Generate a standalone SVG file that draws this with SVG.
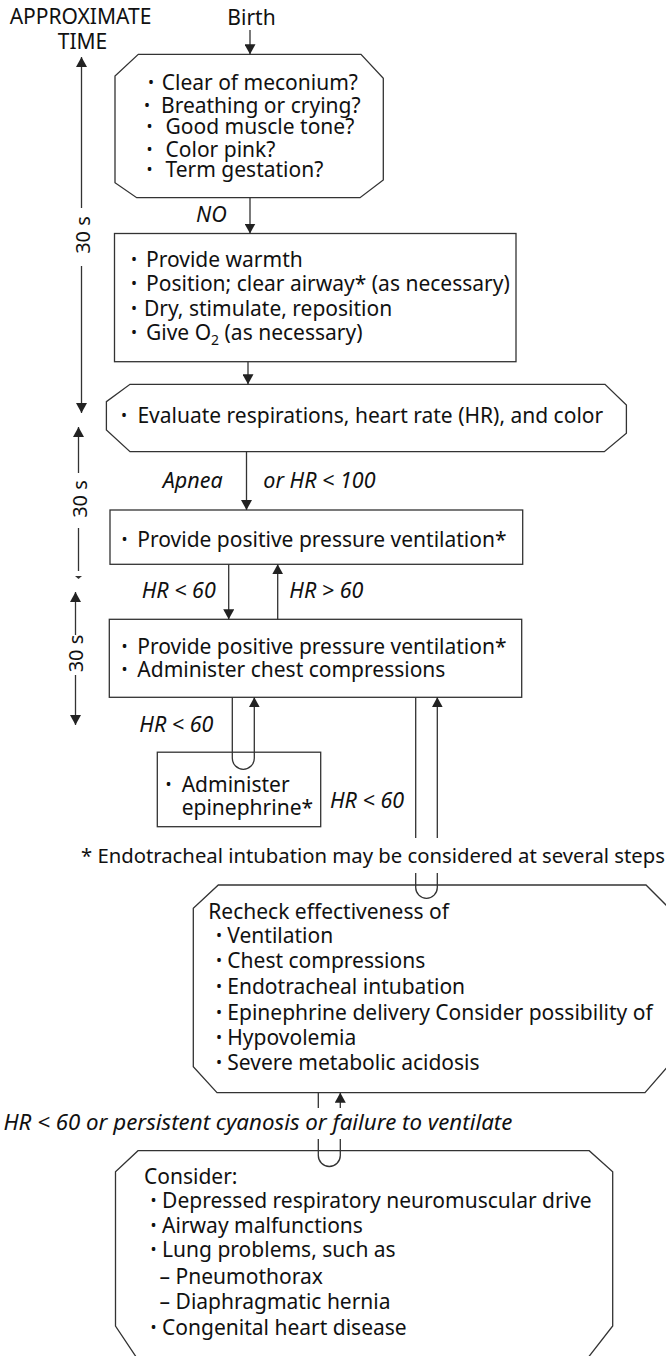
<svg xmlns="http://www.w3.org/2000/svg" width="666" height="1356" viewBox="0 0 666 1356">
<style>
  text { font-family: "Noto Sans", "DejaVu Sans", sans-serif; font-size: 21px; fill: #111; }
  .it { font-style: italic; font-size: 21.5px; }
  .mid { text-anchor: middle; }
  .end { text-anchor: end; }
  .note { font-size: 20.3px; }
  .tl { font-size: 20px; text-anchor: middle; }
  .b { font-size: 16px; }
  .sub { font-size: 14px; }
  .shape { fill: #fff; stroke: #333; stroke-width: 1.3; }
  .ln { fill: none; stroke: #333; stroke-width: 1.3; }
</style>
<defs>
  <marker id="ah" viewBox="0 0 10 11" refX="10" refY="5.5" markerWidth="10" markerHeight="11" markerUnits="userSpaceOnUse" orient="auto">
    <path d="M0,0 L10,5.5 L0,11 Z" fill="#222"/>
  </marker>
</defs>
<rect width="666" height="1356" fill="#fff"/>

<!-- time scale on the left -->
<g id="time-axis">
  <text class="mid" x="80.5" y="24">APPROXIMATE</text>
  <text class="mid" x="82.5" y="49">TIME</text>
  <line class="ln" x1="81.5" y1="208" x2="81.5" y2="57" marker-end="url(#ah)"/>
  <text class="tl" transform="translate(90,235) rotate(-90)">30 s</text>
  <line class="ln" x1="81.5" y1="266" x2="81.5" y2="413" marker-end="url(#ah)"/>
  <line class="ln" x1="78.5" y1="473" x2="78.5" y2="427" marker-end="url(#ah)"/>
  <text class="tl" transform="translate(86.5,499) rotate(-90)">30 s</text>
  <line class="ln" x1="78.5" y1="528" x2="78.5" y2="571"/>
  <path d="M75,576 L82,576 L78.5,579 Z" fill="#333"/>
  <line class="ln" x1="75.5" y1="635" x2="75.5" y2="592" marker-end="url(#ah)"/>
  <text class="tl" transform="translate(83,653.5) rotate(-90)">30 s</text>
  <line class="ln" x1="75.5" y1="675" x2="75.5" y2="725" marker-end="url(#ah)"/>
</g>

<g id="n-birth">
  <text class="mid" x="251.5" y="25">Birth</text>
</g>

<g id="n-assess">
  <polygon class="shape" points="138.3,54.3 361,54.3 383.3,78.3 383.3,180 360,197.7 136.7,197.7 115,182.7 115,76"/>
  <text x="148" y="90"><tspan class="b" dy="-2">• </tspan><tspan x="161.7" dy="2">Clear of meconium?</tspan></text>
  <text x="144" y="112.5"><tspan class="b" dy="-2">•</tspan><tspan x="161" dy="2">Breathing or crying?</tspan></text>
  <text x="146.5" y="133.5"><tspan class="b" dy="-2">• </tspan><tspan x="165.5" dy="2">Good muscle tone?</tspan></text>
  <text x="146.5" y="156.5"><tspan class="b" dy="-2">• </tspan><tspan x="165.5" dy="2">Color pink?</tspan></text>
  <text x="146.5" y="176.5"><tspan class="b" dy="-2">• </tspan><tspan x="165.5" dy="2">Term gestation?</tspan></text>
</g>

<g id="n-initial">
  <rect class="shape" x="114.5" y="233.5" width="401.5" height="128.2"/>
  <text x="131" y="267"><tspan class="b" dy="-2">• </tspan><tspan x="146" dy="2">Provide warmth</tspan></text>
  <text x="131" y="291"><tspan class="b" dy="-2">• </tspan><tspan x="146" dy="2">Position; clear airway* (as necessary)</tspan></text>
  <text x="131" y="316"><tspan class="b" dy="-2">• </tspan><tspan x="144" dy="2">Dry, stimulate, reposition</tspan></text>
  <text x="131" y="339.5"><tspan class="b" dy="-2">• </tspan><tspan x="146" dy="2">Give O</tspan><tspan class="sub" dy="5">2</tspan><tspan dy="-5"> (as necessary)</tspan></text>
</g>

<g id="n-evaluate">
  <polygon class="shape" points="130,384.3 605,384.3 626.4,405 626.4,433.3 604.3,451.7 130,451.7 106.4,430 106.4,401.7"/>
  <text x="121" y="423.3"><tspan class="b" dy="-2">• </tspan><tspan x="137.4" dy="2">Evaluate respirations, heart rate (HR), and color</tspan></text>
</g>

<g id="n-ppv">
  <rect class="shape" x="110" y="510" width="412.7" height="54.3"/>
  <text x="121.5" y="547.3"><tspan class="b" dy="-2">• </tspan><tspan x="137.3" dy="2">Provide positive pressure ventilation*</tspan></text>
</g>

<g id="n-ppv-cc">
  <rect class="shape" x="109.3" y="619.3" width="412.4" height="78"/>
  <text x="121.5" y="654"><tspan class="b" dy="-2">• </tspan><tspan x="137.3" dy="2">Provide positive pressure ventilation*</tspan></text>
  <text x="121.5" y="676.7"><tspan class="b" dy="-2">• </tspan><tspan x="137.3" dy="2">Administer chest compressions</tspan></text>
</g>

<g id="n-epinephrine">
  <rect class="shape" x="157.3" y="752.2" width="163.4" height="74.5"/>
  <text x="165.5" y="791.7"><tspan class="b" dy="-2">• </tspan><tspan x="181.7" dy="2">Administer</tspan></text>
  <text x="181.7" y="815">epinephrine*</text>
</g>

<g id="note">
  <text class="end note" x="665" y="862.7">* Endotracheal intubation may be considered at several steps</text>
</g>

<g id="n-recheck">
  <polygon class="shape" points="218.3,885 646,885 676,915 676,1057 645,1092.7 217,1092.7 193.3,1066.7 193.3,908.3"/>
  <text x="208.3" y="919.3">Recheck effectiveness of</text>
  <text x="216" y="943.3"><tspan class="b" dy="-2">• </tspan><tspan x="227.3" dy="2">Ventilation</tspan></text>
  <text x="216" y="968.3"><tspan class="b" dy="-2">• </tspan><tspan x="227.3" dy="2">Chest compressions</tspan></text>
  <text x="216" y="994"><tspan class="b" dy="-2">• </tspan><tspan x="227.3" dy="2">Endotracheal intubation</tspan></text>
  <text x="216" y="1020"><tspan class="b" dy="-2">• </tspan><tspan x="227.3" dy="2">Epinephrine delivery Consider possibility of</tspan></text>
  <text x="216" y="1045"><tspan class="b" dy="-2">• </tspan><tspan x="227.3" dy="2">Hypovolemia</tspan></text>
  <text x="216" y="1070"><tspan class="b" dy="-2">• </tspan><tspan x="227.3" dy="2">Severe metabolic acidosis</tspan></text>
</g>

<g id="n-consider">
  <polygon class="shape" points="138,1150.7 589.2,1150.7 612.7,1171.7 612.7,1326 587,1359 137.5,1359 115.5,1326 115.5,1171.7"/>
  <text x="144" y="1184">Consider:</text>
  <text x="150.5" y="1208.3"><tspan class="b" dy="-2">• </tspan><tspan x="162.1" dy="2">Depressed respiratory neuromuscular drive</tspan></text>
  <text x="150.5" y="1233.3"><tspan class="b" dy="-2">• </tspan><tspan x="162.1" dy="2">Airway malfunctions</tspan></text>
  <text x="150.5" y="1257.3"><tspan class="b" dy="-2">• </tspan><tspan x="162.1" dy="2">Lung problems, such as</tspan></text>
  <text x="159.6" y="1284">– Pneumothorax</text>
  <text x="159.6" y="1309.3">– Diaphragmatic hernia</text>
  <text x="150.5" y="1335"><tspan class="b" dy="-2">• </tspan><tspan x="162.1" dy="2">Congenital heart disease</tspan></text>
</g>

<!-- flow connectors and their labels -->
<g id="connectors">
  <line class="ln" x1="250" y1="30" x2="250" y2="54.3" marker-end="url(#ah)"/>
  <line class="ln" x1="250" y1="197.7" x2="250" y2="233.5" marker-end="url(#ah)"/>
  <line class="ln" x1="248" y1="361.7" x2="248" y2="384.3" marker-end="url(#ah)"/>
  <line class="ln" x1="246.5" y1="451.7" x2="246.5" y2="510" marker-end="url(#ah)"/>
  <line class="ln" x1="228.7" y1="564.3" x2="228.7" y2="619.3" marker-end="url(#ah)"/>
  <line class="ln" x1="277.7" y1="619.3" x2="277.7" y2="564.3" marker-end="url(#ah)"/>
  <path class="ln" d="M232.3,697.3 V758.3 A11,11 0 0 0 254.3,758.3 V697.3" marker-end="url(#ah)"/>
  <path class="ln" d="M415.7,697.3 V838 M415.7,873 V887.5 A10.8,10.8 0 0 0 437.3,887.5 V873 M437.3,838 V697.3" marker-end="url(#ah)"/>
  <path class="ln" d="M318.3,1092.7 V1108 M318.3,1139 V1155.5 A11,11 0 0 0 340.3,1155.5 V1139 M340.3,1108 V1092.7" marker-end="url(#ah)"/>

  <text class="it" x="196" y="221.7">NO</text>
  <text class="it" x="162.7" y="488.3">Apnea</text>
  <text class="it" x="263.3" y="488.3">or HR &lt; 100</text>
  <text class="it" x="141.7" y="598.3">HR &lt; 60</text>
  <text class="it" x="289.3" y="598.3">HR &gt; 60</text>
  <text class="it" x="139.3" y="731.7">HR &lt; 60</text>
  <text class="it" x="330" y="808.3">HR &lt; 60</text>
  <text class="it" x="3.4" y="1130" textLength="509" lengthAdjust="spacingAndGlyphs">HR &lt; 60 or persistent cyanosis or failure to ventilate</text>
</g>
</svg>
